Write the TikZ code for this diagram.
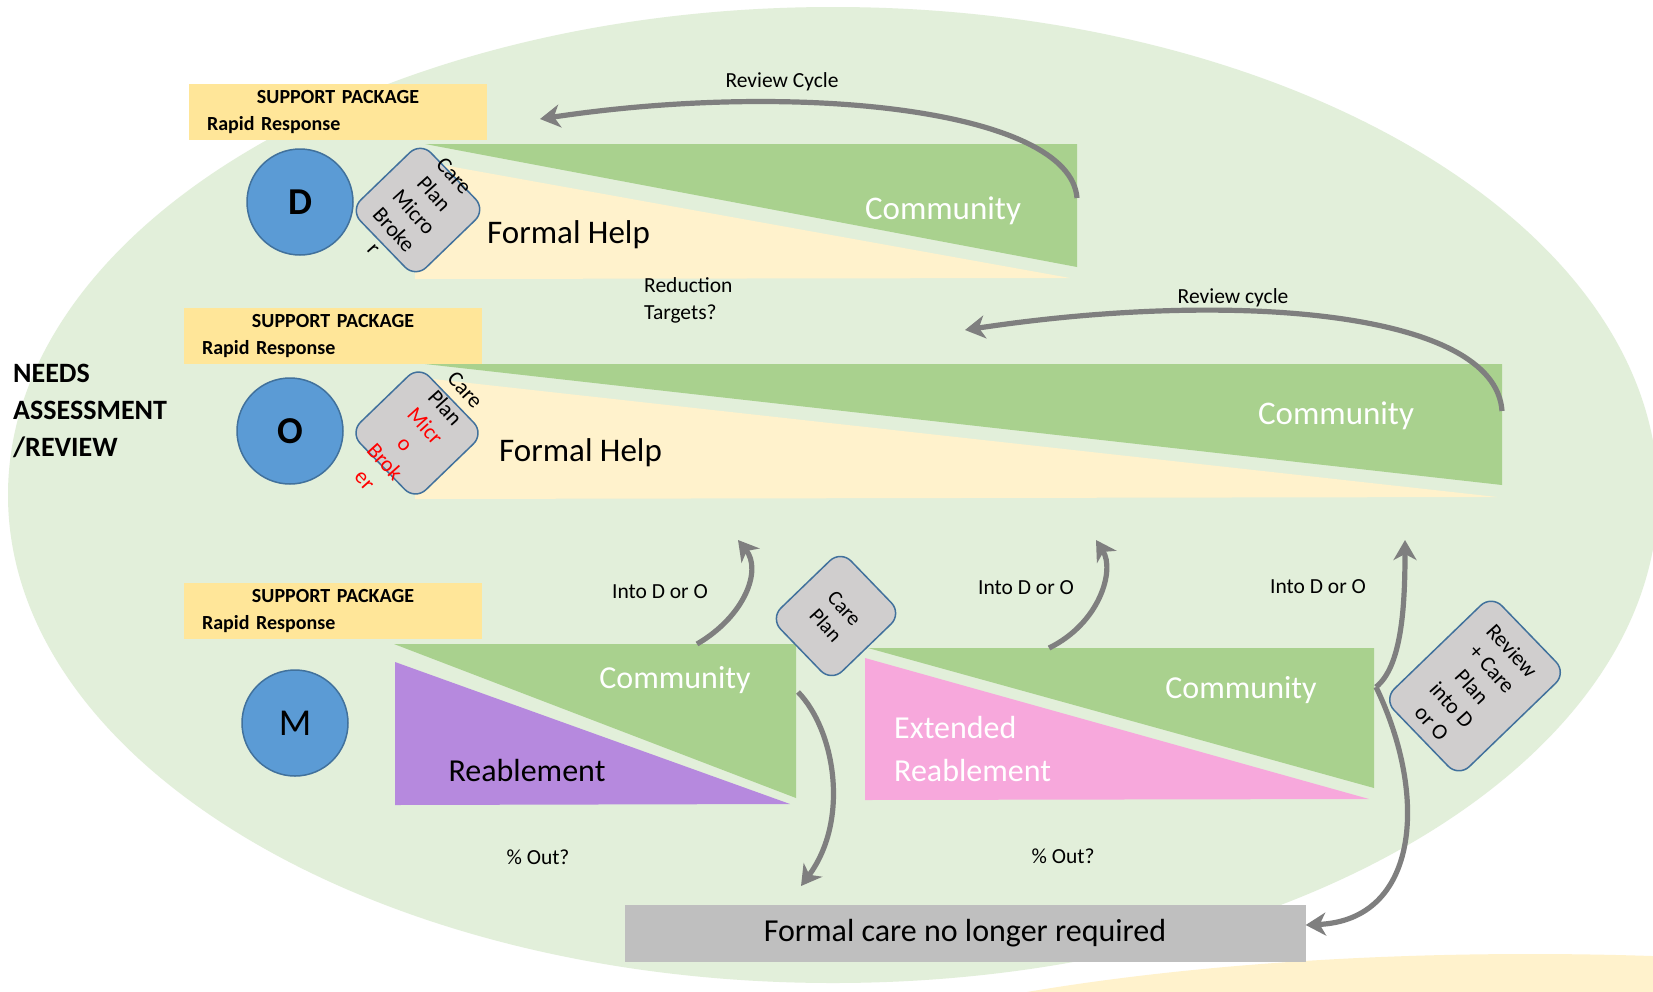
\documentclass[tikz,border=0pt]{standalone}
\usepackage{fontspec}
\setmainfont{Carlito}
\usepackage{xcolor}
\usepackage{tikz}
\usetikzlibrary{arrows.meta}

\definecolor{bggreen}{HTML}{E2EFDA}
\definecolor{commgreen}{HTML}{A9D18E}
\definecolor{helpcream}{HTML}{FFF2CC}
\definecolor{pkggold}{HTML}{FFE699}
\definecolor{hubblue}{HTML}{5B9BD5}
\definecolor{hubedge}{HTML}{41719C}
\definecolor{plangrey}{HTML}{D0CECE}
\definecolor{reapurple}{HTML}{B689DE}
\definecolor{extpink}{HTML}{F7A8DC}
\definecolor{arrowgrey}{HTML}{7F7F7F}
\definecolor{outgrey}{HTML}{BFBFBF}

\begin{document}
\begin{tikzpicture}[x=1pt, y=-1pt,
        pkgbox/.style={fill=pkggold, minimum width=298pt, minimum height=56pt, text width=262pt, inner xsep=18pt, inner ysep=0pt, align=left, font=\fontsize{20}{27}\selectfont\bfseries},
        hub/.style={circle, draw=hubedge, line width=1.5pt, fill=hubblue, minimum size=106pt, inner sep=0pt, font=\fontsize{38}{38}\selectfont},
        planbox/.style={draw=hubedge, line width=1.5pt, fill=plangrey, rounded corners=15pt, inner sep=0pt, rotate=-46},
        plantxt/.style={align=center, inner sep=0pt, rotate=-48, font=\fontsize{22}{27}\selectfont},
        helptxt/.style={anchor=west, inner sep=0pt, font=\fontsize{33}{36}\selectfont},
        commtxt/.style={text=white, inner sep=0pt, font=\fontsize{33}{36}\selectfont},
        smalltxt/.style={inner sep=0pt, font=\fontsize{21.5}{27}\selectfont},
        flowarrow/.style={draw=arrowgrey, line width=5.2pt, -{Stealth[length=20pt, width=23pt, inset=6pt]}},
    ]
        % Fix the page size
        \useasboundingbox (0,0) rectangle (1653,991);
        \clip (0,0) rectangle (1653,991);
        \fill[white] (0,0) rectangle (1653,991);

        % Draw the background ellipses
        \fill[helpcream] (1530,1150) ellipse [x radius=850pt, y radius=196pt];
        \fill[bggreen] (833,495) ellipse [x radius=825pt, y radius=488pt];

        % Draw the D row wedges
        \fill[helpcream] (415,160) -- (1070,278) -- (415,279) -- cycle;
        \fill[commgreen] (425,144) -- (1077,144) -- (1077,267) -- cycle;

        % Draw the O row wedges
        \fill[helpcream] (415,377) -- (1497,497) -- (415,499) -- cycle;
        \fill[commgreen] (425,364) -- (1502,364) -- (1502,485) -- cycle;

        % Draw the M row wedges
        \fill[reapurple] (395,662) -- (790,804) -- (395,805) -- cycle;
        \fill[commgreen] (394,644) -- (796,644) -- (796,798) -- cycle;
        \fill[extpink] (865,658) -- (1369,799) -- (865,800) -- cycle;
        \fill[commgreen] (868,648) -- (1374,648) -- (1374,788) -- cycle;

        % Support package boxes
        \node[pkgbox] (pkgD) at (338,112) {\makebox[\linewidth]{SUPPORT PACKAGE}\\Rapid Response};
        \node[pkgbox] (pkgO) at (333,336) {\makebox[\linewidth]{SUPPORT PACKAGE}\\Rapid Response};
        \node[pkgbox] (pkgM) at (333,611) {\makebox[\linewidth]{SUPPORT PACKAGE}\\Rapid Response};

        % Level circles
        \node[hub, font=\fontsize{38}{38}\selectfont\bfseries] (hubD) at (300,202) {D};
        \node[hub, font=\fontsize{38}{38}\selectfont\bfseries] (hubO) at (290,431) {O};
        \node[hub] (hubM) at (295,723) {M};

        % Care plan cards
        \node[planbox, minimum width=94pt, minimum height=98pt] (planD) at (418,210) {};
        \node[plantxt] (planDtxt) at (414,212) {Care\\Plan\\Micro\\Broke\\r};
        \node[planbox, minimum width=94pt, minimum height=96pt] (planO) at (417,433) {};
        \node[plantxt] (planOtxt) at (415,435) {Care\\Plan\\\textcolor{red}{Micr}\\\textcolor{red}{o}\\\textcolor{red}{Brok}\\\textcolor{red}{er}};
        \node[planbox, minimum width=88pt, minimum height=98pt] (planM) at (836,616) {};
        \node[plantxt, font=\fontsize{21}{25}\selectfont] (planMtxt) at (835,617) {Care\\Plan};
        \node[planbox, minimum width=108pt, minimum height=150pt] (planR) at (1475,686) {};
        \node[plantxt] (planRtxt) at (1472,687) {Review\\+ Care\\Plan\\into D\\or O};

        % Wedge labels
        \node[helptxt] (helpD) at (487,235) {Formal Help};
        \node[helptxt] (helpO) at (499,453) {Formal Help};
        \node[commtxt] (commD) at (943,211) {Community};
        \node[commtxt] (commO) at (1336,416) {Community};
        \node[commtxt, font=\fontsize{32}{36}\selectfont] (commM) at (675,680) {Community};
        \node[commtxt, font=\fontsize{32}{36}\selectfont] (commE) at (1241,690) {Community};
        \node[helptxt, anchor=center, font=\fontsize{32}{36}\selectfont] (reab) at (527,770) {Reablement};
        \node[helptxt, text=white, align=left, font=\fontsize{32}{43}\selectfont] (extReab) at (894,749) {Extended\\Reablement};

        % Side and small labels
        \node[anchor=west, align=left, inner sep=0pt, font=\fontsize{28}{37}\selectfont\bfseries] (needs) at (13,411) {NEEDS\\ASSESSMENT\\/REVIEW};
        \node[smalltxt, anchor=west, align=left] (targets) at (644,300) {Reduction\\Targets?};
        \node[smalltxt] (intoM) at (660,592) {Into D or O};
        \node[smalltxt] (intoE) at (1026,588) {Into D or O};
        \node[smalltxt] (intoR) at (1318,587) {Into D or O};
        \node[smalltxt] (outM) at (538,857) {\% Out?};
        \node[smalltxt] (outE) at (1063,856) {\% Out?};

        % Exit box
        \node[fill=outgrey, minimum width=681pt, minimum height=57pt, inner sep=0pt, font=\fontsize{32}{36}\selectfont] (noCare) at (965,933) {Formal care no longer required};

        % Review cycle arrows
        \coordinate (cycDfrom) at (1077,198);
        \coordinate (cycDto) at (540,119);
        \draw[flowarrow] (cycDfrom) .. controls +(-7,-88) and +(260,-39) .. (cycDto);
        \coordinate (cycOfrom) at (1502,411);
        \coordinate (cycOto) at (965,330);
        \draw[flowarrow] (cycOfrom) .. controls +(-7,-101) and +(265,-40) .. (cycOto);
        \node[smalltxt] (cycDlbl) at (782,82) {Review Cycle};
        \node[smalltxt] (cycOlbl) at (1233,298) {Review cycle};

        % Into D or O arrows
        \coordinate (upMfrom) at (697,644);
        \coordinate (upMto) at (738,540);
        \draw[flowarrow] (upMfrom) .. controls +(48,-28) and +(24,30) .. (upMto);
        \coordinate (upEfrom) at (1049,648);
        \coordinate (upEto) at (1096,540);
        \draw[flowarrow] (upEfrom) .. controls +(51,-25) and +(19,30) .. (upEto);
        \coordinate (extEdge) at (1376,687);
        \coordinate (upRto) at (1405,540);
        \draw[flowarrow] (extEdge) .. controls +(25,-20) and +(0,70) .. (upRto);

        % Out arrows
        \draw[flowarrow] (extEdge) .. controls +(53,110) and +(113,-5) .. ([yshift=8pt]noCare.east);
        \coordinate (downMfrom) at (798,692);
        \coordinate (downMto) at (801,886);
        \draw[flowarrow] (downMfrom) .. controls +(37,38) and +(49,-66) .. (downMto);
\end{tikzpicture}
\end{document}
